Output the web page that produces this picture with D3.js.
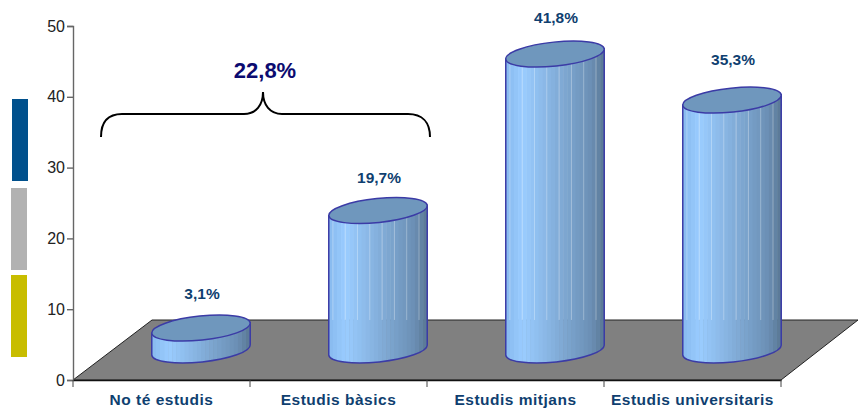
<!DOCTYPE html>
<html>
<head>
<meta charset="utf-8">
<script src="https://cdn.jsdelivr.net/npm/d3@7"></script>
<style>
  html, body { margin: 0; padding: 0; background: #fff; }
  text { font-family: "Liberation Sans", Arial, sans-serif; }
</style>
</head>
<body>
<div id="chart"></div>
<script>
const categories = ["No té estudis", "Estudis bàsics", "Estudis mitjans", "Estudis universitaris"];
const values = [3.1, 19.7, 41.8, 35.3];
const valueLabels = ["3,1%", "19,7%", "41,8%", "35,3%"];
const yTicks = [0, 10, 20, 30, 40, 50];
const legendColors = ["#00508c", "#b2b2b2", "#c8bd00"];
const groupLabel = "22,8%";

const width = 858;
const height = 410;

const svg = d3
  .select("#chart")
  .append("svg")
  .attr("width", width)
  .attr("height", height)
  .style("display", "block");

const x = d3.scaleBand().domain(categories).range([73, 781]);
const y = d3.scaleLinear().domain([0, 50]).range([380, 26]);

// depth of the floor
const depthX = 79;
const depthY = 60;

// strips down the left side
svg
  .selectAll(".legend")
  .data(legendColors)
  .join("rect")
  .attr("class", "legend")
  .attr("x", (d, i) => (i == 0 ? 12 : 11))
  .attr("y", (d, i) => [99, 188, 275][i])
  .attr("width", 16)
  .attr("height", 82)
  .attr("fill", (d) => d);

svg
  .append("path")
  .attr("d", `M73,380 L152,320 L858,320 L781,380 Z`)
  .attr("fill", "#808080")
  .attr("stroke", "#222")
  .attr("stroke-width", 1);

// y axis
const yAxis = svg
  .append("g")
  .attr("transform", "translate(73,0)")
  .call(d3.axisLeft(y).tickValues(yTicks).tickSize(6).tickPadding(2));
yAxis.selectAll("path, line").attr("stroke", "#666").attr("stroke-width", 1.4);
yAxis
  .selectAll("text")
  .style("font-size", "16px")
  .attr("fill", "#222");

// x axis
const xAxis = svg
  .append("g")
  .attr("transform", "translate(0,380)")
  .call(d3.axisBottom(x).tickValues([]).tickSizeOuter(0));
xAxis.select("path").attr("stroke", "#111").attr("stroke-width", 1.6);

svg
  .selectAll(".xtick")
  .data([73, 250, 427, 604, 781])
  .join("line")
  .attr("class", "xtick")
  .attr("x1", (d) => d)
  .attr("x2", (d) => d)
  .attr("y1", 380)
  .attr("y2", 387)
  .attr("stroke", "#444");

svg
  .selectAll(".cat")
  .data(categories)
  .join("text")
  .attr("class", "cat")
  .attr("x", (d) => x(d) + x.bandwidth() / 2)
  .attr("y", 405)
  .style("font-size", "15.5px")
  .style("letter-spacing", "0.5px")
  .style("font-weight", "bold")
  .style("text-anchor", "middle")
  .attr("fill", "#0f3f70")
  .text((d) => d);

// cylinders
const rx = 49.5;
const ry = 12;
const tilt = -6;
const dx = rx * Math.cos((tilt * Math.PI) / 180);
const dy = rx * Math.sin((tilt * Math.PI) / 180);
const shade = d3
  .scaleLinear()
  .domain([0, 0.15, 0.55, 0.85, 1])
  .range(["#8abcf0", "#9accff", "#7fa9d4", "#6b8fb4", "#56738f"]);

const cx = (d) => x(d) + x.bandwidth() / 2 + depthX / 2;
const baseY = y(0) - depthY / 2;
const topY = (v) => baseY - (y(0) - y(v));

function bodyPath(c, v) {
  const t = topY(v);
  return (
    `M${c - dx},${t - dy} L${c - dx},${baseY - dy} ` +
    `A${rx},${ry} ${tilt} 0 0 ${c + dx},${baseY + dy} ` +
    `L${c + dx},${t + dy} Z`
  );
}

const cyl = svg
  .selectAll(".cyl")
  .data(categories)
  .join("g")
  .attr("class", "cyl");

cyl
  .append("clipPath")
  .attr("id", (d, i) => "clip" + i)
  .append("path")
  .attr("d", (d, i) => bodyPath(cx(d), values[i]));

const facets = d3.range(0, 1, 1 / 24);
cyl.each(function (d, i) {
  const c = cx(d);
  const g = d3.select(this).append("g").attr("clip-path", `url(#clip${i})`);
  g.selectAll("rect")
    .data(facets)
    .join("rect")
    .attr("x", (f) => c - dx + f * 2 * dx)
    .attr("y", topY(values[i]) - 20)
    .attr("width", (2 * dx) / 24 + 0.5)
    .attr("height", baseY - topY(values[i]) + 50)
    .attr("fill", (f) => shade(f));
  // thin light seams, only above the floor line on the tall ones
  g.selectAll("line")
    .data(facets.filter((f, j) => j % 3 == 1))
    .join("line")
    .attr("x1", (f) => c - dx + f * 2 * dx)
    .attr("x2", (f) => c - dx + f * 2 * dx)
    .attr("y1", topY(values[i]))
    .attr("y2", y(0) - depthY)
    .attr("stroke", "#fff")
    .attr("stroke-opacity", 0.3);
});

cyl
  .append("path")
  .attr("d", (d, i) => bodyPath(cx(d), values[i]))
  .attr("fill", "none")
  .attr("stroke", "#3b3ba6")
  .attr("stroke-width", 1.5);

cyl
  .append("ellipse")
  .attr("cx", 0)
  .attr("cy", 0)
  .attr("rx", rx)
  .attr("ry", ry)
  .attr("transform", (d, i) => `translate(${cx(d)},${topY(values[i])}) rotate(${tilt})`)
  .attr("fill", "#6f97bd")
  .attr("stroke", "#3b3ba6")
  .attr("stroke-width", 1.5);

// labels don't sit at a fixed distance from the tops in the original
const labelGap = [29, 28, 31, 35];
svg
  .selectAll(".val")
  .data(categories)
  .join("text")
  .attr("class", "val")
  .attr("x", (d) => cx(d) + 1)
  .attr("y", (d, i) => topY(values[i]) - labelGap[i])
  .style("font-size", "15.5px")
  .style("font-weight", "bold")
  .style("text-anchor", "middle")
  .attr("fill", "#0f3f70")
  .text((d, i) => valueLabels[i]);

// brace over the first two categories
svg
  .append("path")
  .attr(
    "d",
    "M101,137 C101,122 108,114 122,114 L244,114 C256,114 263,105 263,92 " +
      "C263,105 270,114 282,114 L408,114 C422,114 430,122 430,137"
  )
  .attr("fill", "none")
  .attr("stroke", "#000")
  .attr("stroke-width", 2);

svg
  .append("text")
  .attr("x", 265)
  .attr("y", 78)
  .style("font-size", "22px")
  .style("font-weight", "bold")
  .style("text-anchor", "middle")
  .attr("fill", "#0b0b70")
  .text(groupLabel);
</script>
</body>
</html>
